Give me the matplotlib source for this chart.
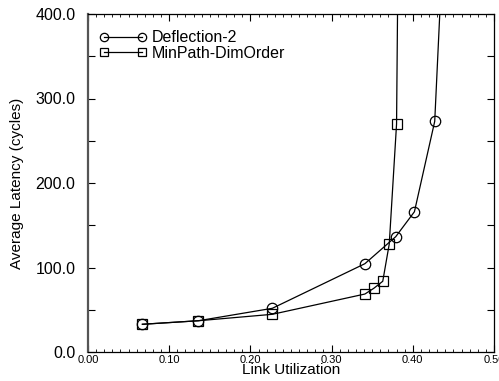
import matplotlib
matplotlib.use("Agg")
import matplotlib.pyplot as plt
from matplotlib.ticker import MultipleLocator, FormatStrFormatter

plt.rcParams['font.family'] = ['Liberation Sans', 'DejaVu Sans']

# Data
defl_x = [0.067, 0.136, 0.227, 0.341, 0.379, 0.402, 0.427, 0.443]
defl_y = [32.8, 37.0, 51.7, 104.5, 136.5, 166.0, 273.0, 600.0]
minp_x = [0.067, 0.136, 0.227, 0.341, 0.352, 0.363, 0.371, 0.380, 0.383]
minp_y = [32.8, 37.0, 44.6, 68.6, 75.4, 83.7, 127.8, 269.8, 600.0]
series_labels = ["Deflection-2", "MinPath-DimOrder"]
x_label = "Link Utilization"
y_label = "Average Latency (cycles)"

fig = plt.figure(figsize=(4.99, 3.81), dpi=100)
ax = fig.add_axes([88/499, 1-352/381, (494-88)/499, (352-14)/381])

ax.plot(defl_x, defl_y, color='black', lw=0.9, marker='o', ms=7.5,
        mfc='none', mec='black', mew=0.9, label=series_labels[0])
ax.plot(minp_x, minp_y, color='black', lw=0.9, marker='s', ms=6.5,
        mfc='none', mec='black', mew=0.9, label=series_labels[1])

ax.set_xlim(0, 0.5)
ax.set_ylim(0, 400)
ax.xaxis.set_major_locator(MultipleLocator(0.1))
ax.xaxis.set_minor_locator(MultipleLocator(0.01))
ax.yaxis.set_major_locator(MultipleLocator(100))
ax.yaxis.set_minor_locator(MultipleLocator(50))
ax.xaxis.set_major_formatter(FormatStrFormatter('%.2f'))
ax.yaxis.set_major_formatter(FormatStrFormatter('%.1f'))

ax.tick_params(which='both', direction='in', top=True, right=True, color='black')
ax.tick_params(axis='x', which='major', length=5, width=0.8, labelsize=8, pad=2)
ax.tick_params(axis='x', which='minor', length=2.5, width=0.6)
ax.tick_params(axis='y', which='major', length=5, width=0.8, labelsize=11.5, pad=9)
ax.tick_params(axis='y', which='minor', length=5, width=0.8)

for s in ['top', 'right', 'bottom']:
    ax.spines[s].set_linewidth(0.9)
ax.spines['left'].set_linewidth(1.6)
ax.spines['left'].set_color('#555555')

ax.set_xlabel(x_label, fontsize=11, labelpad=-1)
ax.set_ylabel(y_label, fontsize=11, labelpad=8)

leg = ax.legend(loc='upper left', frameon=False, numpoints=2, fontsize=11.5,
                handlelength=3.0, handletextpad=0.3, labelspacing=0.05,
                markerscale=0.8,
                bbox_to_anchor=(0.0, 0.985), borderaxespad=0.3)

fig.savefig("out.png", dpi=100)
